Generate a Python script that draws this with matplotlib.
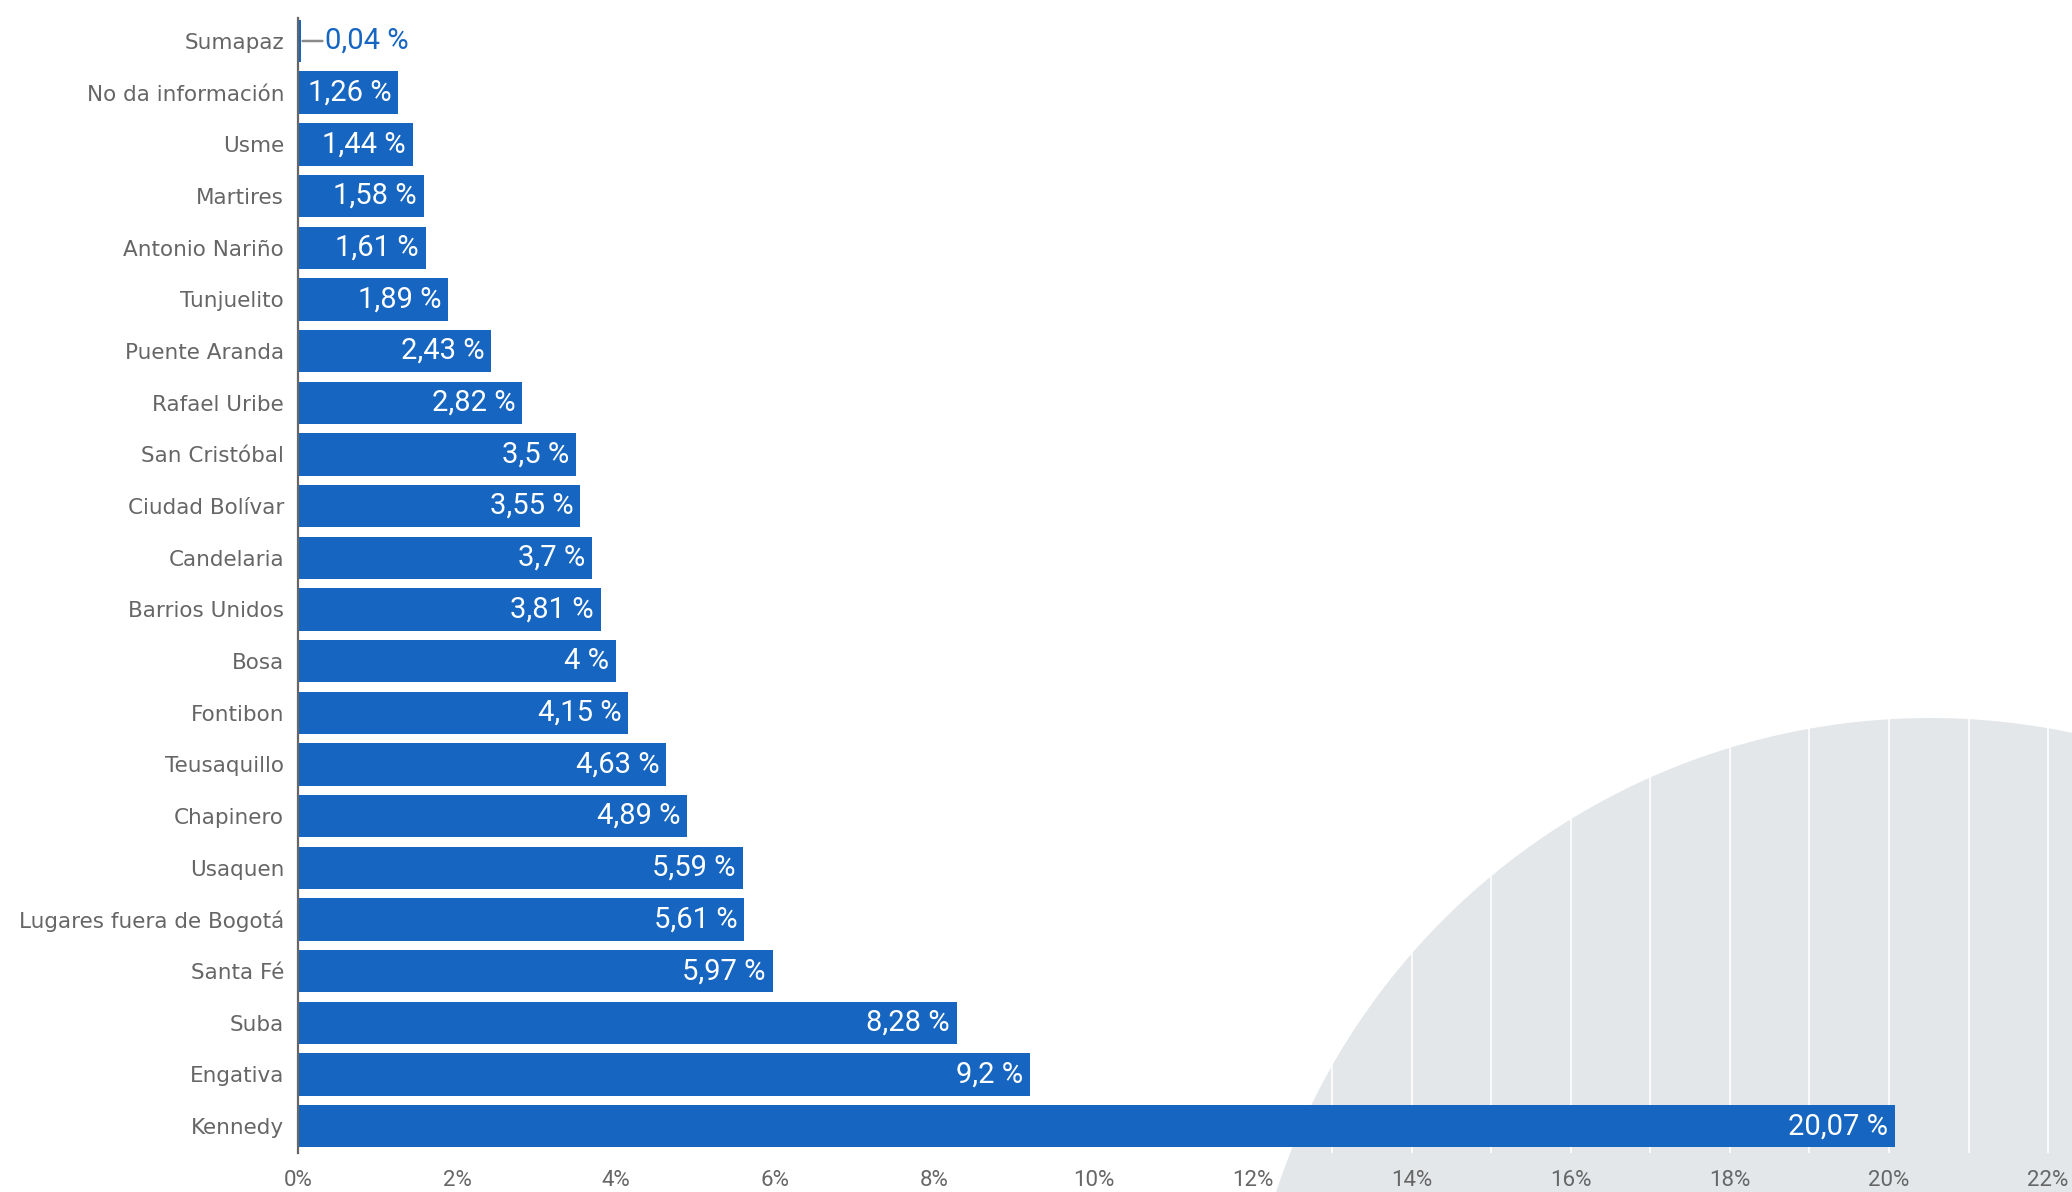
import numpy as np
import matplotlib
matplotlib.use("Agg")
import matplotlib.pyplot as plt
from matplotlib.patches import Ellipse

# Localidades, de arriba hacia abajo
localidades = [
    "Sumapaz", "No da información", "Usme", "Martires", "Antonio Nariño",
    "Tunjuelito", "Puente Aranda", "Rafael Uribe", "San Cristóbal",
    "Ciudad Bolívar", "Candelaria", "Barrios Unidos", "Bosa", "Fontibon",
    "Teusaquillo", "Chapinero", "Usaquen", "Lugares fuera de Bogotá",
    "Santa Fé", "Suba", "Engativa", "Kennedy",
]
porcentajes = [
    0.04, 1.26, 1.44, 1.58, 1.61, 1.89, 2.43, 2.82, 3.5, 3.55, 3.7, 3.81,
    4, 4.15, 4.63, 4.89, 5.59, 5.61, 5.97, 8.28, 9.2, 20.07,
]
ticks_x = [0, 2, 4, 6, 8, 10, 12, 14, 16, 18, 20, 22]
etiquetas_x = [f"{t}%" for t in ticks_x]

AZUL = "#1665c1"
GRIS_TEXTO = "#666666"
FUENTE_NUM = ["Roboto", "DejaVu Sans"]

W, H = 2072, 1192
fig = plt.figure(figsize=(W / 100, H / 100), dpi=100)
fig.patch.set_facecolor("white")

# Círculo gris decorativo de fondo (coordenadas en píxeles de la figura)
cx, cy, r = 1930, 1406, 688
circulo = Ellipse((cx / W, 1 - cy / H), 2 * r / W, 2 * r / H,
                  transform=fig.transFigure, facecolor="#e4e7ea",
                  edgecolor="none", zorder=-1)
fig.patches.append(circulo)

left = 298 / W
bottom = 1 - 1153 / H
top = 1 - 18 / H
ax = fig.add_axes([left, bottom, 1 - left, top - bottom])
ax.patch.set_alpha(0)

y = np.arange(len(localidades))
ax.barh(y, porcentajes, height=0.82, color=AZUL, zorder=2)

ax.set_xlim(0, 22.3)
ax.set_ylim(len(localidades) - 0.48, -0.445)

ax.set_yticks(y)
ax.set_yticklabels(localidades, fontsize=15.5, color=GRIS_TEXTO, family="DejaVu Sans")
ax.set_xticks(ticks_x)
ax.set_xticklabels(etiquetas_x, fontsize=16, color=GRIS_TEXTO, family=FUENTE_NUM)
ax.tick_params(axis="y", length=0, pad=10)
ax.tick_params(axis="x", length=0, pad=12)

# Rejilla blanca cada 1 %, solo visible sobre el círculo
ax.set_xticks(np.arange(0, 23, 1), minor=True)
ax.tick_params(axis="x", which="minor", length=0)
ax.grid(axis="x", which="both", color="white", linewidth=1.2)
ax.set_axisbelow(True)

for s in ["top", "right", "bottom"]:
    ax.spines[s].set_visible(False)
ax.spines["left"].set_color(GRIS_TEXTO)
ax.spines["left"].set_linewidth(1.6)
ax.spines["left"].set_zorder(3)

for yi, v in zip(y, porcentajes):
    txt = f"{v:g}".replace(".", ",") + " %"
    if v < 1:
        ax.annotate(txt, xy=(v, yi), xytext=(24, 0), textcoords="offset pixels",
                    ha="left", va="center", fontsize=21, color=AZUL,
                    family=FUENTE_NUM,
                    arrowprops=dict(arrowstyle="-", color="#8a8a8a", lw=1.8,
                                    shrinkA=0, shrinkB=1))
    else:
        ax.annotate(txt, xy=(v, yi), xytext=(-7, 0), textcoords="offset pixels",
                    ha="right", va="center", fontsize=21, color="white",
                    family=FUENTE_NUM, zorder=4)

fig.savefig("out.png", dpi=100)
